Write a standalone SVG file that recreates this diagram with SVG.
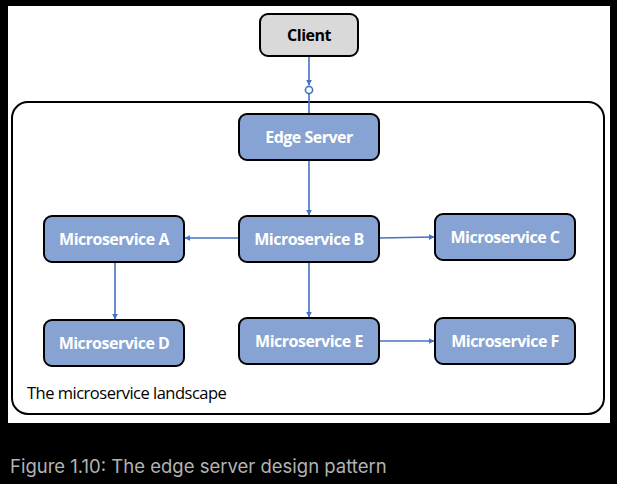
<svg xmlns="http://www.w3.org/2000/svg" width="617" height="484" viewBox="0 0 617 484">
<defs>
<style>
.n rect{fill:#87a3d3;stroke:#000;stroke-width:2}
.n text{fill:#fff;font-family:"Open Sans","Liberation Sans",sans-serif;font-weight:bold;font-size:16px;text-anchor:middle;letter-spacing:-0.5px}
.c line{stroke:#4472c4;stroke-width:1.6}
.lbl{font-family:"Open Sans","Liberation Sans",sans-serif;font-size:16.5px;letter-spacing:-0.5px}
</style>
<marker id="ah" viewBox="0 0 10 10" refX="9" refY="5" markerWidth="6" markerHeight="6" markerUnits="userSpaceOnUse" orient="auto"><path d="M0,0 L10,5 L0,10 z" fill="#4472c4"/></marker>
</defs>
<rect x="0" y="0" width="617" height="484" fill="#000"/>
<rect x="8" y="6" width="602" height="417" fill="#fff"/>
<rect x="12" y="102" width="592" height="312" rx="16" fill="none" stroke="#000" stroke-width="2"/>
<text class="lbl" x="27" y="399" fill="#000">The microservice landscape</text>
<g class="c">
<line x1="309" y1="56" x2="309" y2="85" marker-end="url(#ah)"/>
<circle cx="309" cy="90" r="3.6" fill="#fff" stroke="#4472c4" stroke-width="1.6"/>
<line x1="309" y1="94" x2="309" y2="114"/>
<line x1="309" y1="160" x2="309" y2="215" marker-end="url(#ah)"/>
<line x1="239" y1="238" x2="185" y2="238" marker-end="url(#ah)"/>
<line x1="379" y1="238" x2="434" y2="237" marker-end="url(#ah)"/>
<line x1="115" y1="262" x2="115" y2="319" marker-end="url(#ah)"/>
<line x1="309" y1="262" x2="309" y2="317" marker-end="url(#ah)"/>
<line x1="379" y1="341" x2="434" y2="341" marker-end="url(#ah)"/>
</g>
<g id="client" class="n"><rect x="260" y="14" width="98" height="42" rx="8" style="fill:#d9d9d9"/><text x="309" y="41" style="fill:#000">Client</text></g>
<g id="edge" class="n"><rect x="239" y="114" width="140" height="46" rx="8"/><text x="309" y="143">Edge Server</text></g>
<g id="msa" class="n"><rect x="44" y="216" width="140" height="46" rx="8"/><text x="114" y="245">Microservice A</text></g>
<g id="msb" class="n"><rect x="239" y="216" width="140" height="46" rx="8"/><text x="309" y="245">Microservice B</text></g>
<g id="msc" class="n"><rect x="435" y="214" width="140" height="46" rx="8"/><text x="505" y="243">Microservice C</text></g>
<g id="msd" class="n"><rect x="44" y="320" width="140" height="46" rx="8"/><text x="114" y="349">Microservice D</text></g>
<g id="mse" class="n"><rect x="239" y="318" width="140" height="46" rx="8"/><text x="309" y="347">Microservice E</text></g>
<g id="msf" class="n"><rect x="435" y="318" width="140" height="46" rx="8"/><text x="505" y="347">Microservice F</text></g>
<text x="10" y="473" fill="#b3b3b3" font-family="Inter,'Noto Sans',sans-serif" font-size="18.5">Figure 1.10: The edge server design pattern</text>
</svg>
